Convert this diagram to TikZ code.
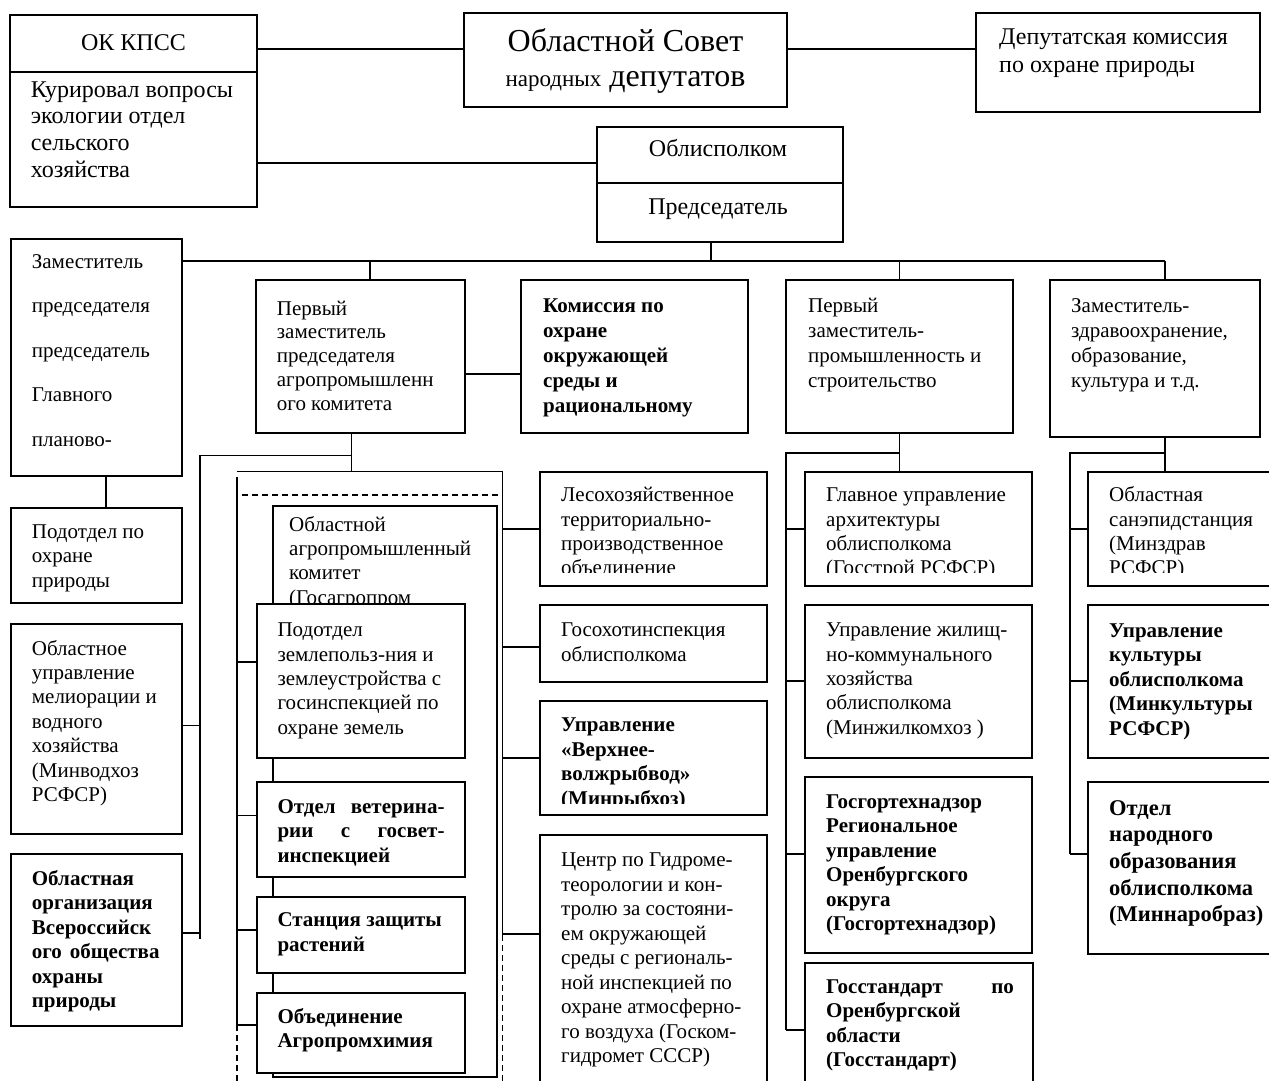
\documentclass[tikz,border=0pt]{standalone}
\usepackage{fontspec}
\setmainfont{Liberation Serif}
\newcommand{\bx}[5]{\node[bxs, minimum width={#4-#2}, minimum height={#5-#3}, anchor=north west] (#1) at (#2,#3) {};}
\newcommand{\cover}[2]{\fill[white] ([xshift=1pt]#1.south west |- 0,#2) rectangle ([xshift=-1pt,yshift=1pt]#1.south east);}
\begin{document}
\begin{tikzpicture}[x=1pt,y=-1pt,
  bxs/.style={draw, line width=1.5pt, fill=white, inner sep=0pt, outer sep=0pt},
  ln/.style={line width=1.5pt},
  dsh/.style={line width=1.3pt, dash pattern=on 6pt off 4pt},
  tr/.style={inner sep=0pt, anchor=base west, font=\fontsize{21}{24.4}\selectfont},
  trb/.style={inner sep=0pt, anchor=base west, font=\fontsize{21}{24.5}\selectfont\bfseries}]
\useasboundingbox (0,0) rectangle (1269,1081);

% ---------- connectors ----------
\coordinate (busL) at (182,261);
\coordinate (busR) at (1165,261);
\coordinate (jPerv) at (351.7,455.7);
\coordinate (jLeft) at (200,455.7);
\coordinate (jLeftEnd) at (200,939);
\coordinate (oTL) at (237,471.7);
\coordinate (oTR) at (502.7,471.7);
\coordinate (oRend) at (502.7,937);
\coordinate (oLtop) at (237,476.7);
\coordinate (oLend) at (237,1026.7);
\coordinate (pP) at (899.5,453);
\coordinate (pL) at (786,453);
\coordinate (pLend) at (786,1030);
\coordinate (zP) at (1165,453);
\coordinate (zL) at (1070,453);
\coordinate (zLend) at (1070,854);

\draw[ln] (busL) -- (busR);
\draw[ln] (711,242) -- (711,261);
\draw[ln] (370,261) -- (370,280);
\draw[ln] (899.5,261) -- (899.5,280);
\draw[ln] (busR) -- (1165,280);
\draw[ln] (351.7,433) -- (351.7,471.7);
\draw[ln] (jPerv) -- (jLeft) -- (jLeftEnd);
\draw[ln] (oTL) -- (oTR) -- (oRend);
\draw[ln] (oLtop) -- (oLend);
\draw[dsh] (237,495) rectangle (502.7,1120);
\draw[ln] (899.5,433) -- (899.5,471.7);
\draw[ln] (pP) -- (pL) -- (pLend);
\draw[ln] (1165,437) -- (1165,471.7);
\draw[ln] (zP) -- (zL) -- (zLend);
\draw[ln] (106,476) -- (106,508);

% ---------- top ----------
\bx{okk}{10}{15}{257}{207}
\draw[ln] (okk.west |- 0,72) -- (okk.east |- 0,72);
\node[tr, anchor=base, font=\fontsize{24}{27}\selectfont] (okkT) at (133.5,51) {ОК КПСС};
\node[tr, font=\fontsize{24}{26.7}\selectfont] (okkB) at (30.6,97) {\parbox[t]{220pt}{\raggedright Курировал вопросы\\экологии отдел\\сельского\\хозяйства}};

\bx{sovet}{464}{13}{787}{107}
\node[tr, anchor=base, font=\fontsize{32}{36}\selectfont] (sovT1) at (625.5,52) {Областной Совет};
\node[tr, anchor=base, font=\fontsize{32}{36}\selectfont] (sovT2) at (625.5,86) {{\fontsize{23}{26}\selectfont народных} депутатов};

\bx{dep}{976}{13}{1260}{112}
\node[tr, font=\fontsize{24}{28}\selectfont] (depT) at (999,45) {\parbox[t]{255pt}{\raggedright Депутатская комиссия\\по охране природы}};

\bx{obl}{597}{127}{843}{242}
\draw[ln] (obl.west |- 0,183) -- (obl.east |- 0,183);
\node[tr, anchor=base, font=\fontsize{24}{27}\selectfont] (oblT1) at (718,156) {Облисполком};
\node[tr, anchor=base, font=\fontsize{24}{27}\selectfont] (oblT2) at (718,214) {Председатель};

\draw[ln] (okk.east |- 0,49) -- (sovet.west |- 0,49);
\draw[ln] (sovet.east |- 0,49) -- (dep.west |- 0,49);
\draw[ln] (okk.east |- 0,163) -- (obl.west |- 0,163);

% ---------- second row ----------
\bx{zam}{11}{239}{182}{476}
\node[tr, font=\fontsize{21}{44.5}\selectfont] (zamT) at (31.7,268) {\parbox[t]{150pt}{\raggedright Заместитель\\председателя\\председатель\\Главного\\планово-}};

\bx{perv}{256}{280}{465}{433}
\node[tr, font=\fontsize{21}{23.8}\selectfont] (pervT) at (276.7,315) {\parbox[t]{185pt}{\raggedright Первый\\заместитель\\председателя\\агропромышленн\\ого комитета}};

\bx{kom}{521}{280}{748}{433}
\node[trb, font=\fontsize{21}{25}\selectfont\bfseries] (komT) at (543,312) {\parbox[t]{200pt}{\raggedright Комиссия по\\охране\\окружающей\\среды и\\рациональному}};
\draw[ln] (perv.east |- 0,374) -- (kom.west |- 0,374);

\bx{pervprom}{786}{280}{1013}{433}
\node[tr, font=\fontsize{21}{25}\selectfont] (ppT) at (808,312) {\parbox[t]{200pt}{\raggedright Первый\\заместитель-\\промышленность и\\строительство}};

\bx{zamzdr}{1050}{280}{1260}{437}
\node[tr, font=\fontsize{21}{25}\selectfont] (zzT) at (1071,312) {\parbox[t]{185pt}{\raggedright Заместитель-\\здравоохранение,\\образование,\\культура и т.д.}};

% ---------- left column ----------
\bx{podpr}{11}{508}{182}{603}
\node[tr] (podprT) at (31.7,538.5) {\parbox[t]{150pt}{\raggedright Подотдел по\\охране\\природы}};

\bx{melio}{11}{624}{182}{834}
\node[tr] (melioT) at (31.7,655) {\parbox[t]{150pt}{\raggedright Областное\\управление\\мелиорации и\\водного\\хозяйства\\(Минводхоз\\РСФСР)}};
\draw[ln] (melio.east |- 0,725.7) -- (200,725.7);

\bx{vseros}{11}{854}{182}{1026}
\node[trb] (vserosT) at (31.7,885) {\parbox[t]{150pt}{\raggedright Областная\\организация\\Всероссийск\\\makebox[127.7pt][s]{ого общества}\\охраны\\природы}};
\draw[ln] (vseros.east |- 0,933) -- (200,933);

% ---------- agro block ----------
\bx{agro}{273}{506}{497}{1077}
\node[tr] (agroT) at (289,531) {\parbox[t]{205pt}{\raggedright Областной\\агропромышленный\\комитет\\(Госагропром}};

\bx{podzem}{257}{604}{465}{758}
\node[tr] (podzemT) at (277.3,636.7) {\parbox[t]{185pt}{\raggedright Подотдел\\землепольз-ния и\\землеустройства с\\госинспекцией по\\охране земель}};
\draw[ln] (237,662) -- (podzem.west |- 0,662);

\bx{veter}{257}{782}{465}{877}
\node[trb] (veterT) at (277.3,813) {\parbox[t]{185pt}{\raggedright \makebox[167pt][s]{Отдел ветерина-}\\\makebox[167pt][s]{рии с госвет-}\\инспекцией}};
\draw[ln] (237,815.7) -- (veter.west |- 0,815.7);

\bx{stanc}{257}{897}{465}{973}
\node[trb] (stancT) at (277.3,926.7) {\parbox[t]{185pt}{\raggedright Станция защиты\\растений}};
\draw[ln] (237,930) -- (stanc.west |- 0,930);

\bx{obed}{257}{993}{465}{1073}
\node[trb] (obedT) at (277.3,1023) {\parbox[t]{185pt}{\raggedright Объединение\\Агропромхимия}};
\draw[ln] (237,1025) -- (obed.west |- 0,1025);

% ---------- column 3 ----------
\bx{les}{540}{472}{767}{586}
\node[tr] (lesT) at (561,501.7) {\parbox[t]{200pt}{\raggedright Лесохозяйственное\\территориально-\\производственное\\объединение}};
\cover{les}{573}
\draw[ln] (502.7,529) -- (les.west |- 0,529);

\bx{gosoh}{540}{605}{767}{682}
\node[tr] (gosohT) at (561,636.7) {\parbox[t]{200pt}{\raggedright Госохотинспекция\\облисполкома}};
\draw[ln] (502.7,647) -- (gosoh.west |- 0,647);

\bx{verkh}{540}{701}{767}{815}
\node[trb] (verkhT) at (561,731.7) {\parbox[t]{200pt}{\raggedright Управление\\«Верхнее-\\волжрыбвод»\\(Минрыбхоз)}};
\cover{verkh}{804}
\draw[ln] (502.7,758) -- (verkh.west |- 0,758);

\bx{centr}{540}{835}{767}{1110}
\node[tr, font=\fontsize{21}{24.5}\selectfont] (centrT) at (561,866.7) {\parbox[t]{200pt}{\raggedright Центр по Гидроме-\\теорологии и кон-\\тролю за состояни-\\ем окружающей\\среды с региональ-\\ной инспекцией по\\охране атмосферно-\\го воздуха (Госком-\\гидромет СССР)}};
\draw[ln] (502.7,934) -- (centr.west |- 0,934);

% ---------- column 4 ----------
\bx{glav}{805}{472}{1032}{586}
\node[tr] (glavT) at (826,501.7) {\parbox[t]{200pt}{\raggedright Главное управление\\архитектуры\\облисполкома\\(Госстрой РСФСР)}};
\cover{glav}{573}
\draw[ln] (786,529) -- (glav.west |- 0,529);

\bx{zhil}{805}{605}{1032}{758}
\node[tr] (zhilT) at (826,636.7) {\parbox[t]{200pt}{\raggedright Управление жилищ-\\но-коммунального\\хозяйства\\облисполкома\\(Минжилкомхоз )}};
\draw[ln] (786,681) -- (zhil.west |- 0,681);

\bx{gorteh}{805}{777}{1032}{953}
\node[trb] (gortehT) at (826,808) {\parbox[t]{200pt}{\raggedright Госгортехнадзор\\Региональное\\управление\\Оренбургского\\округа\\(Госгортехнадзор)}};
\draw[ln] (786,854) -- (gorteh.west |- 0,854);

\bx{gosst}{805}{963}{1033}{1110}
\node[trb] (gosstT) at (826,993) {\parbox[t]{200pt}{\raggedright \makebox[187.7pt][s]{Госстандарт по}\\Оренбургской\\области\\(Госстандарт)}};
\draw[ln] (786,1030) -- (gosst.west |- 0,1030);

% ---------- column 5 ----------
\bx{sanep}{1088}{472}{1278}{586}
\node[tr] (sanepT) at (1109,501.7) {\parbox[t]{165pt}{\raggedright Областная\\санэпидстанция\\(Минздрав\\РСФСР)}};
\cover{sanep}{573}
\draw[ln] (1070,529) -- (sanep.west |- 0,529);

\bx{kult}{1088}{605}{1278}{758}
\node[trb] (kultT) at (1109,637) {\parbox[t]{165pt}{\raggedright Управление\\культуры\\облисполкома\\(Минкультуры\\РСФСР)}};
\draw[ln] (1070,681) -- (kult.west |- 0,681);

\bx{narobr}{1088}{782}{1278}{954}
\node[trb, font=\fontsize{22.5}{26.7}\selectfont\bfseries] (narobrT) at (1109,815) {\parbox[t]{165pt}{\raggedright Отдел\\народного\\образования\\облисполкома\\(Миннаробраз)}};
\draw[ln] (1070,854) -- (narobr.west |- 0,854);
\end{tikzpicture}
\end{document}
